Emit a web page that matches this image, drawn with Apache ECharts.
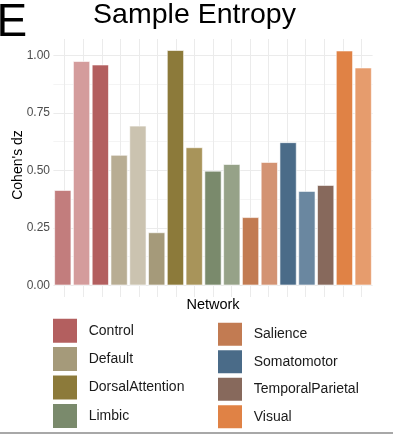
<!DOCTYPE html>
<html>
<head>
<meta charset="utf-8">
<script src="https://cdn.jsdelivr.net/npm/echarts@6/dist/echarts.min.js"></script>
<style>
html,body{margin:0;padding:0;background:#fff;}
#chart{width:393px;height:434px;}
</style>
</head>
<body>
<div id="chart"></div>
<script>
// ---- data ----
var networks = ['Control','Default','DorsalAttention','Limbic','Salience','Somatomotor','TemporalParietal','Visual'];
var networkColors = ['#b35f5f','#a59a7a','#8c7a3a','#7a8a6c','#c27b52','#4a6b88','#87695c','#e08245'];
var barNetworks = ['Control','Control','Control','Default','Default','Default','DorsalAttention','DorsalAttention','Limbic','Limbic','Salience','Salience','Somatomotor','Somatomotor','TemporalParietal','Visual','Visual'];
var barValues = [0.414, 0.975, 0.960, 0.567, 0.694, 0.230, 1.023, 0.600, 0.498, 0.527, 0.296, 0.536, 0.622, 0.410, 0.436, 1.021, 0.947];
var barColors = ['#c27d7d','#d49c9c','#b35f5f','#b8ad93','#cbc3b0','#a59a7a','#8c7a3a','#a8945a','#7a8a6c','#96a288','#c27b52','#d39373','#4a6b88','#6a87a0','#87695c','#e08245','#e69c6d'];
var categories = barNetworks.map(function(n, i){ return n + '_' + (i + 1); });
var yTicks = [0, 0.25, 0.5, 0.75, 1.0];

// ---- chart ----
var chart = echarts.init(document.getElementById('chart'), null, {renderer: 'canvas'});
var font = 'Liberation Sans, Arial, sans-serif';

var series = networks.map(function(net, k){
  return {
    name: net,
    type: 'bar',
    stack: 'all',
    xAxisIndex: 0,
    yAxisIndex: 0,
    barCategoryGap: '10%',
    clip: false,
    itemStyle: {color: networkColors[k], borderColor: '#ffffff', borderWidth: 0.6},
    emphasis: {disabled: true},
    data: barValues.map(function(v, i){
      return barNetworks[i] === net ? {value: v, itemStyle: {color: barColors[i]}} : '-';
    })
  };
});

// one legend entry per network, two columns of four
var legends = networks.map(function(net, k){
  var col = Math.floor(k / 4), row = k % 4;
  return {
    data: [net], orient: 'vertical',
    left: col === 0 ? 51 : 216,
    top: col === 0 ? 316.7 + row * 28.4 : 320.7 + row * 27.5,
    padding: 0, itemWidth: 26, itemHeight: col === 0 ? 26 : 25, icon: 'rect', selectedMode: false,
    textStyle: {fontSize: 14, color: '#1a1a1a', fontFamily: font, padding: [0, 0, 0, 5.7]}
  };
});

var option = {
  backgroundColor: '#ffffff',
  animation: false,
  textStyle: {fontFamily: font},
  grid: [
    {left: 53.4, right: 20.4, top: 55.5, bottom: 148.7},
    {left: 64.7, right: 31.7, top: 39, bottom: 137}
  ],
  xAxis: [
    {type: 'category', gridIndex: 0, data: categories,
     axisLine: {show: false}, axisTick: {show: false}, axisLabel: {show: false}, splitLine: {show: false}},
    {type: 'value', gridIndex: 1, min: 0, max: categories.length - 1, interval: 1,
     axisLine: {show: false}, axisTick: {show: false}, axisLabel: {show: false},
     splitLine: {show: true, lineStyle: {color: '#ebebeb', width: 1}}}
  ],
  yAxis: [
    {type: 'value', gridIndex: 0, min: yTicks[0], max: yTicks[yTicks.length - 1], interval: 0.25,
     axisLine: {show: false}, axisTick: {show: false},
     axisLabel: {show: true, color: '#4d4d4d', fontSize: 12, margin: 3.4, fontFamily: font,
       formatter: function(v){ return v.toFixed(2); }},
     splitLine: {show: true, lineStyle: {color: '#ebebeb', width: 1}},
     minorTick: {show: false, splitNumber: 2},
     minorSplitLine: {show: true, lineStyle: {color: '#f4f4f4', width: 1}}},
    {type: 'value', gridIndex: 1, min: 0, max: 1, show: false}
  ],
  legend: legends,
  graphic: [
    {type: 'text', left: -3.5, top: 0, style: {text: 'E', fontSize: 46, fontFamily: font, fill: '#000'}},
    {type: 'text', x: 194.5, y: 15, style: {text: 'Sample Entropy', fontSize: 28.5, fontFamily: font, fill: '#000', align: 'center', verticalAlign: 'middle'}},
    {type: 'text', x: 18, y: 165, rotation: Math.PI / 2, style: {text: "Cohen's dz", fontSize: 14, fontFamily: font, fill: '#000', align: 'center', verticalAlign: 'middle'}},
    {type: 'text', x: 213, y: 304.5, style: {text: 'Network', fontSize: 14.5, fontFamily: font, fill: '#000', align: 'center', verticalAlign: 'middle'}},
    {type: 'line', shape: {x1: 0, y1: 433, x2: 393, y2: 433}, style: {stroke: '#a8a8a8', lineWidth: 2}}
  ],
  series: series.concat([{type: 'line', xAxisIndex: 1, yAxisIndex: 1, data: [], silent: true}])
};
chart.setOption(option);
</script>
</body>
</html>
